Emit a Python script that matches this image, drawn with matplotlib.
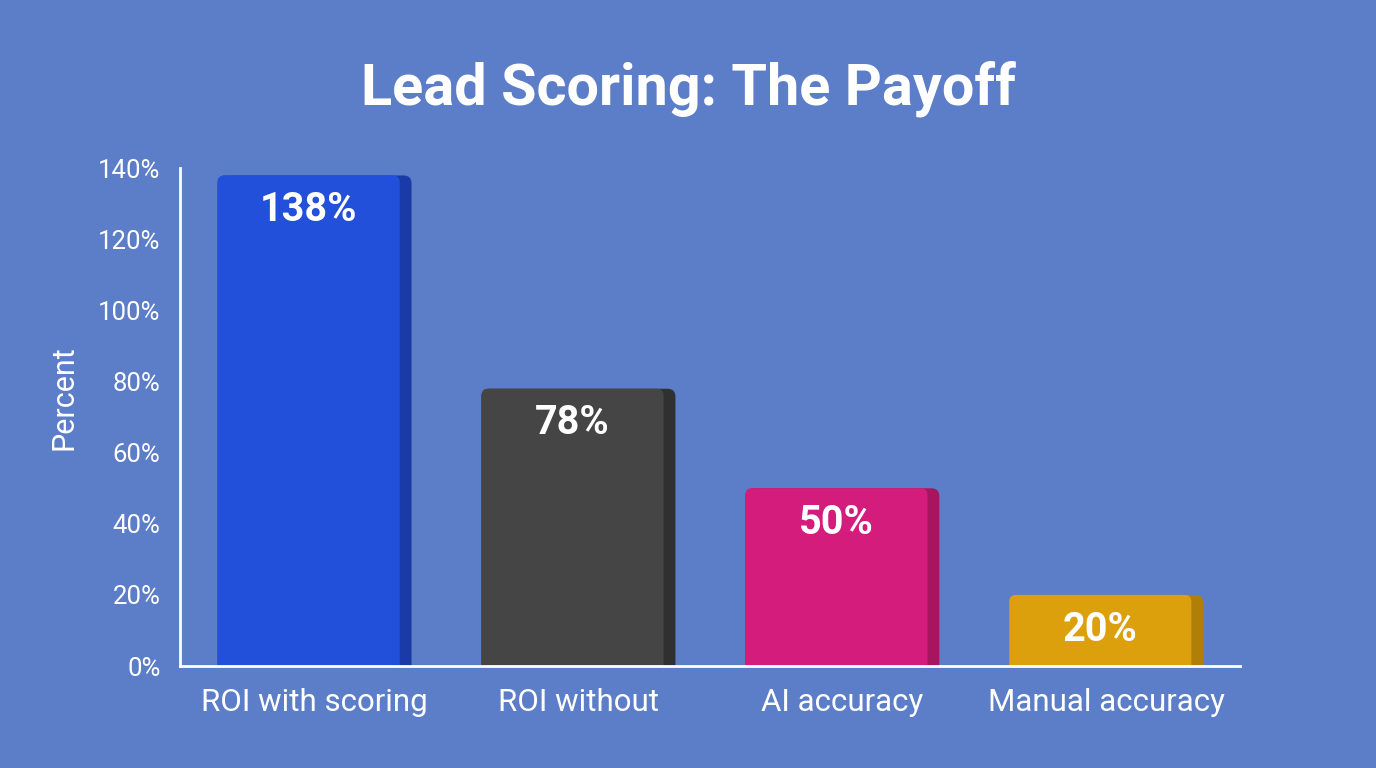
import matplotlib.pyplot as plt
from matplotlib.patches import FancyBboxPatch
import numpy as np

categories = ['ROI with scoring', 'ROI without', 'AI accuracy', 'Manual accuracy']
values = [138, 78, 50, 20]
labels = ['138%', '78%', '50%', '20%']
front_colors = ['#2350da', '#454545', '#d41c7c', '#dca00c']
side_colors = ['#1a3aa8', '#303030', '#a8155f', '#b07f08']
yticks = [0, 20, 40, 60, 80, 100, 120, 140]

bg = '#5c7dc7'
plt.rcParams['font.family'] = ['Roboto', 'DejaVu Sans']

fig = plt.figure(figsize=(13.76, 7.68), dpi=100, facecolor=bg)
ax = fig.add_axes([0.1308, 0.1328, 0.770, 0.648])
ax.set_facecolor(bg)

ax.set_xlim(-0.51, 3.505)
ax.set_ylim(0, 140)

x = np.arange(len(categories))
w = 0.735      # full width incl. side face
wf = 0.69      # front face
asp = (140 / 496) / (4.015 / 1060)  # y units per x unit in pixels
for xi, v, fc, sc in zip(x, values, front_colors, side_colors):
    x0 = xi - w / 2
    # start below 0 so the bottom rounding gets clipped away
    ax.add_patch(FancyBboxPatch((x0, -5), w, v + 5, boxstyle='round,pad=0,rounding_size=0.03',
                                mutation_aspect=asp, fc=sc, ec='none', zorder=2))
    ax.add_patch(FancyBboxPatch((x0, -5), wf, v + 5, boxstyle='round,pad=0,rounding_size=0.025',
                                mutation_aspect=asp, fc=fc, ec='none', zorder=2))

for xi, v, t in zip(x, values, labels):
    ax.annotate(t, (xi - (w - wf) / 2, v), xytext=(0, -25), textcoords='offset points',
                ha='center', va='center', color='white', fontsize=28.5,
                fontweight='bold', zorder=3)

ax.set_yticks(yticks)
ax.set_yticklabels([f'{t}%' for t in yticks])
ax.set_xticks(x)
ax.set_xticklabels(categories)
ax.tick_params(axis='both', length=0, colors='white')
ax.tick_params(axis='y', labelsize=18.5, pad=14)
ax.tick_params(axis='x', labelsize=22.5, pad=16)

for s in ['top', 'right']:
    ax.spines[s].set_visible(False)
for s in ['left', 'bottom']:
    ax.spines[s].set_color('white')
    ax.spines[s].set_linewidth(2)
    ax.spines[s].set_zorder(4)

ax.set_ylabel('Percent', color='white', fontsize=22)
ax.yaxis.set_label_coords(-0.096, 0.54)
fig.text(0.5, 0.885, 'Lead Scoring: The Payoff', ha='center', va='center',
         color='white', fontsize=41.5, fontweight='bold')

fig.savefig('out.png', dpi=100, facecolor=bg)
